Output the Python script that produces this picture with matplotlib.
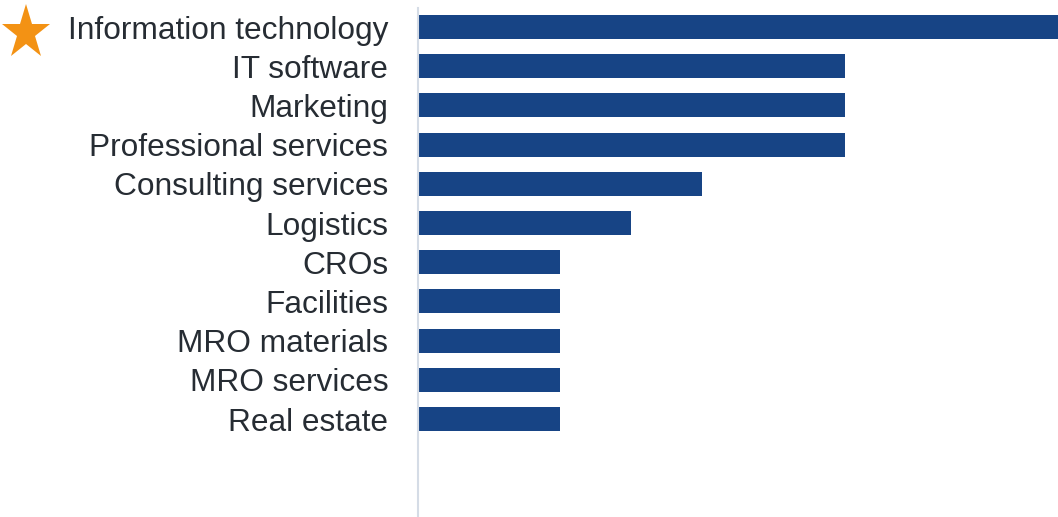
import matplotlib.pyplot as plt
from matplotlib.lines import Line2D
from matplotlib.markers import MarkerStyle
from matplotlib.transforms import Affine2D

# categories and counts, top to bottom
categories = ['Information technology', 'IT software', 'Marketing',
              'Professional services', 'Consulting services', 'Logistics',
              'CROs', 'Facilities', 'MRO materials', 'MRO services',
              'Real estate']
counts = [9, 6, 6, 6, 4, 3, 2, 2, 2, 2, 2]

bar_color = '#174485'
text_color = '#262c33'

plt.rcParams['font.family'] = ['Liberation Sans', 'DejaVu Sans']

fig = plt.figure(figsize=(10.58, 5.17), dpi=100)
ax = fig.add_axes([418 / 1058, 0, 640 / 1058, 509 / 517])

y = list(range(len(categories)))
ax.barh(y, counts, height=0.61, color=bar_color, zorder=2)

ax.set_xlim(0, 9)
ax.set_ylim(12.5, -0.485)
ax.set_yticks(y)
ax.set_yticklabels(categories, fontsize=22.8, color=text_color)
ax.tick_params(axis='y', length=0, pad=21.5)
ax.set_xticks([])

for side in ['top', 'right', 'bottom']:
    ax.spines[side].set_visible(False)
ax.spines['left'].set_color('#d5dce6')
ax.spines['left'].set_linewidth(1.5)

# orange star marking the top category (a bit narrower than the default one)
star_marker = MarkerStyle('*', transform=Affine2D().scale(0.88, 1.0))
star = Line2D([26 / 1058], [1 - 32.7 / 517], marker=star_marker,
              markersize=41.4, color='#f39214', markeredgewidth=0,
              transform=fig.transFigure)
fig.add_artist(star)

fig.savefig('out.png', dpi=100)
